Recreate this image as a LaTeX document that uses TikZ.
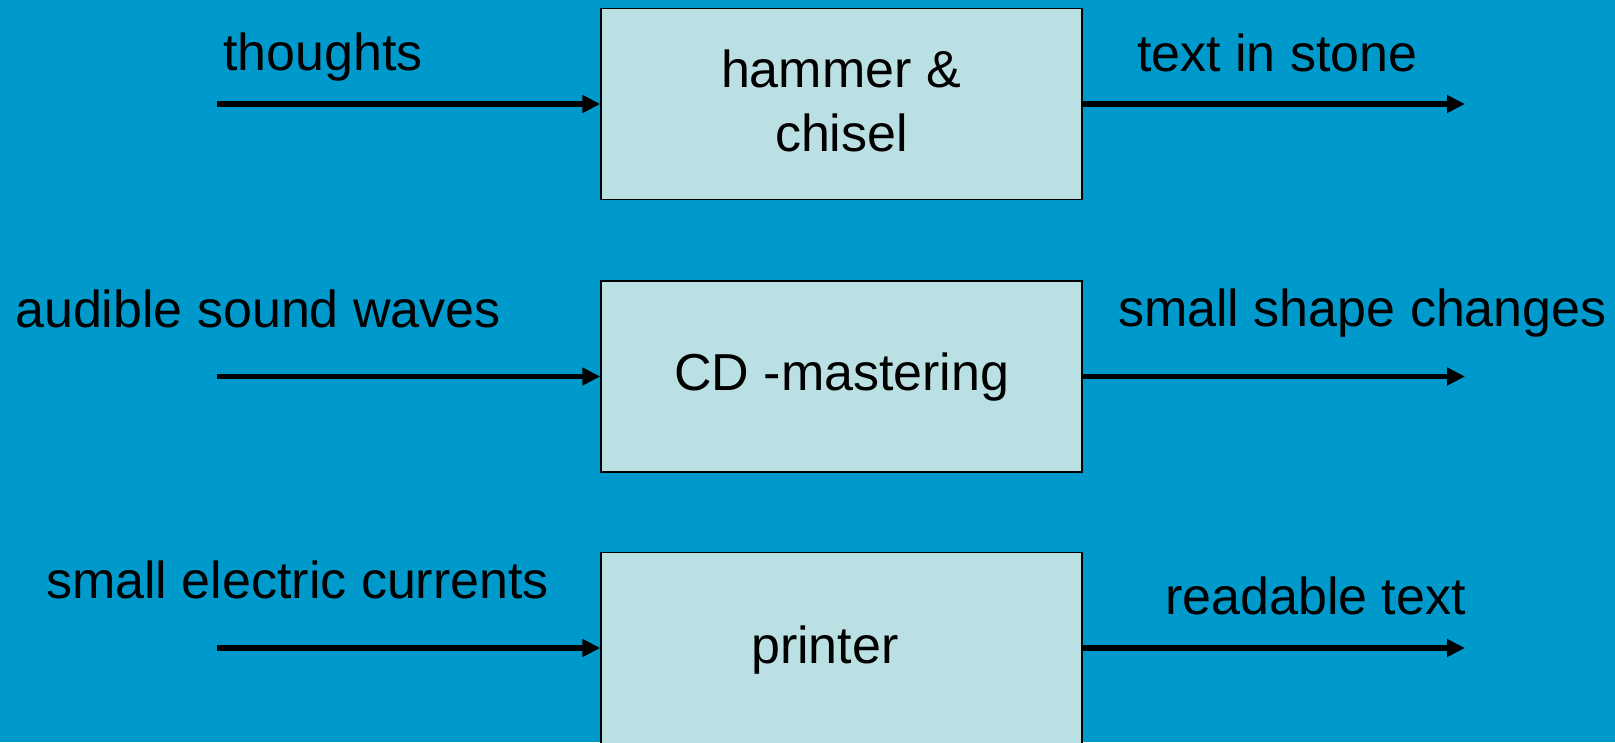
\documentclass[tikz,border=0pt]{standalone}
\usepackage{fontspec}
\setmainfont{Liberation Sans}
\usetikzlibrary{arrows.meta}
\definecolor{slidebg}{RGB}{0,153,204}
\definecolor{boxfill}{RGB}{186,224,227}
\tikzset{
  procbox/.style={draw=black, line width=1.4pt, fill=boxfill,
    minimum width=481pt, minimum height=191pt, inner sep=0pt},
  flow/.style={line width=5.6pt, -{Triangle[length=18pt,width=17pt]}},
  lbl/.style={inner sep=0pt, anchor=base west, font=\fontsize{52}{64}\selectfont},
  boxtxt/.style={inner sep=0pt, anchor=base, font=\fontsize{52}{64}\selectfont},
}
\begin{document}
\begin{tikzpicture}[x=1pt,y=1pt]
  % background and fixed page size
  \fill[slidebg] (0,0) rectangle (1615,-742);
  \useasboundingbox (0,0) rectangle (1615,-742);

  % process boxes (the last one runs past the lower edge)
  \begin{scope}
    \clip (0,0) rectangle (1615,-742);
    \node[procbox] (b1) at (841.5,-104) {};
    \node[procbox] (b2) at (841.5,-376.5) {};
    \node[procbox] (b3) at (841.5,-648) {};
  \end{scope}

  % box captions
  \node[boxtxt] (t1a) at (841,-87) {hammer \&};
  \node[boxtxt] (t1b) at (841.5,-151) {chisel};
  \node[lbl] (t2) at (674,-390) {CD -mastering};
  \node[lbl] (t3) at (751,-663) {printer};

  % free arrow ends
  \coordinate (in1) at (217,-104);
  \coordinate (in2) at (217,-376.5);
  \coordinate (in3) at (217,-648);
  \coordinate (out1) at (1465,-104);
  \coordinate (out2) at (1465,-376.5);
  \coordinate (out3) at (1465,-648);

  % inputs and outputs
  \draw[flow] (in1) -- (b1.west);
  \draw[flow] (in2) -- (b2.west);
  \draw[flow] (in3) -- (b3.west);
  \draw[flow] (b1.east) -- (out1);
  \draw[flow] (b2.east) -- (out2);
  \draw[flow] (b3.east) -- (out3);

  % arrow labels
  \node[lbl] (l1) at (223,-70) {thoughts};
  \node[lbl] (r1) at (1137,-71) {text in stone};
  \node[lbl] (l2) at (15,-327) {audible sound waves};
  \node[lbl] (r2) at (1118,-326) {small shape changes};
  \node[lbl] (l3) at (46,-598) {small electric currents};
  \node[lbl] (r3) at (1165,-614) {readable text};
\end{tikzpicture}
\end{document}
